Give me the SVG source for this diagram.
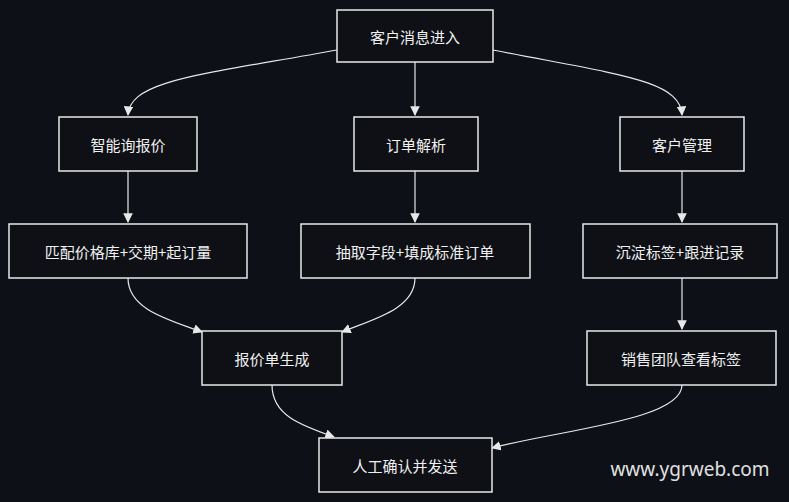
<svg xmlns="http://www.w3.org/2000/svg" width="789" height="502" viewBox="0 0 789 502">
<style>
.n rect{fill:#0e1016;stroke:#e8e8e8;stroke-width:1.5}
.n text{fill:#f0f0f0;font-family:"Noto Sans CJK SC","Noto Sans",sans-serif;font-size:15px;text-anchor:middle;dominant-baseline:central}
.c path{fill:none;stroke:#e8e8e8;stroke-width:1.2;marker-end:url(#a)}
</style>
<defs><marker id="a" viewBox="0 0 10 10" refX="9" refY="5" markerWidth="8" markerHeight="8" orient="auto"><path d="M0,0 L10,5 L0,10 Z" fill="#e8e8e8"/></marker></defs>
<rect width="789" height="502" fill="#0d1017"/>
<g class="c">
<path d="M337,50 C200,75 130,80 128,115"/>
<path d="M415,62 L415,115"/>
<path d="M493,50 C620,75 680,80 682,115"/>
<path d="M128,171 L128,222"/>
<path d="M415,171 L415,222"/>
<path d="M682,171 L682,222"/>
<path d="M128,278 C128,310 170,320 202,332"/>
<path d="M415,278 C415,310 370,320 342,332"/>
<path d="M682,278 L682,329"/>
<path d="M272,385 C272,415 300,425 334,437"/>
<path d="M682,385 C682,420 560,430 492,448"/>
</g>
<g id="n1" class="n"><rect x="337" y="10" width="156" height="52"/><text x="415" y="36">客户消息进入</text></g>
<g id="n2" class="n"><rect x="59" y="117" width="138" height="54"/><text x="128" y="144">智能询报价</text></g>
<g id="n3" class="n"><rect x="354" y="117" width="124" height="54"/><text x="416" y="144">订单解析</text></g>
<g id="n4" class="n"><rect x="620" y="117" width="124" height="54"/><text x="682" y="144">客户管理</text></g>
<g id="n5" class="n"><rect x="9" y="224" width="238" height="54"/><text x="128" y="251">匹配价格库+交期+起订量</text></g>
<g id="n6" class="n"><rect x="301" y="224" width="229" height="54"/><text x="415" y="251">抽取字段+填成标准订单</text></g>
<g id="n7" class="n"><rect x="583" y="224" width="194" height="54"/><text x="680" y="251">沉淀标签+跟进记录</text></g>
<g id="n8" class="n"><rect x="202" y="331" width="140" height="54"/><text x="272" y="358">报价单生成</text></g>
<g id="n9" class="n"><rect x="587" y="331" width="189" height="54"/><text x="681" y="358">销售团队查看标签</text></g>
<g id="n10" class="n"><rect x="319" y="438" width="173" height="54"/><text x="405" y="465">人工确认并发送</text></g>
<text x="690" y="476" fill="#e0e0e0" font-family="Noto Sans,sans-serif" font-size="19" text-anchor="middle">www.ygrweb.com</text>
</svg>
